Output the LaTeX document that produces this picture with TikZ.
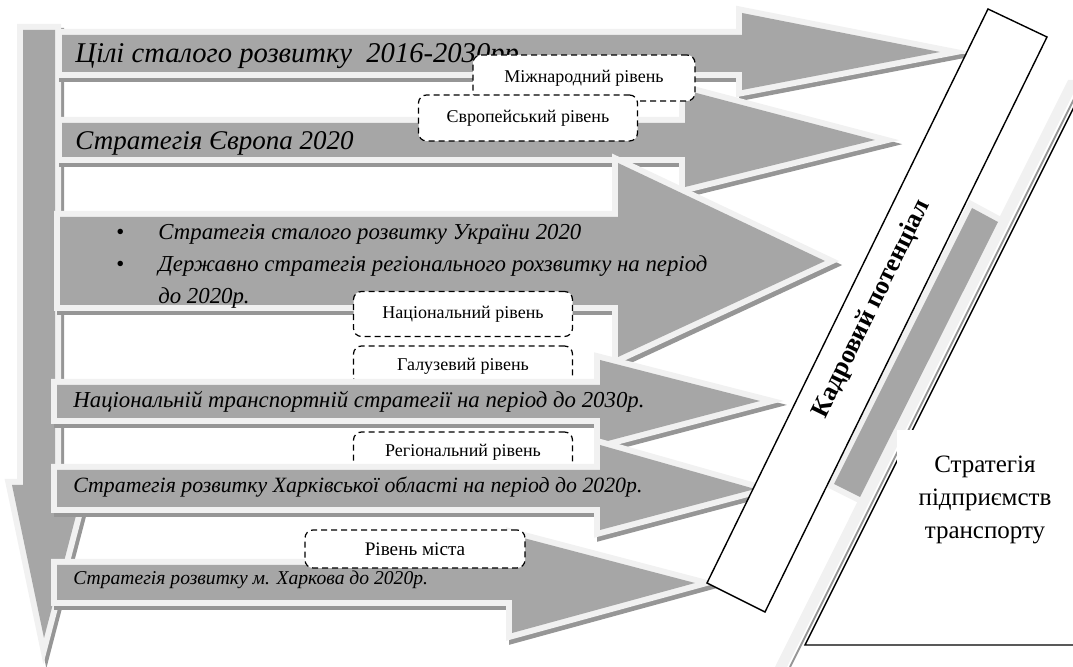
\documentclass[tikz,border=0pt]{standalone}
\usepackage{fontspec}
\setmainfont{Liberation Serif}
\definecolor{arrowgray}{RGB}{166,166,166}
\definecolor{glowgray}{RGB}{241,241,241}
\definecolor{shadegray}{RGB}{150,150,150}
\tikzset{
  bigarrow/.style={fill=arrowgray,
    preaction={draw=shadegray,fill=shadegray,line width=6pt,
      transform canvas={shift={(1.5pt,-2pt)}}},
    preaction={draw=glowgray,line width=6pt}},
  levelbox/.style={draw,fill=white,dash pattern=on 3pt off 2pt,
    rounded corners=4pt,line width=0.6pt,inner sep=0pt,
    font=\fontsize{9}{10}\selectfont},
  bigtext/.style={anchor=base west,inner sep=0pt,
    font=\itshape\fontsize{13.5}{16}\selectfont},
  smalltext/.style={anchor=base west,inner sep=0pt,
    font=\itshape\fontsize{10.5}{16}\selectfont}
}
\begin{document}
\begin{tikzpicture}[x=0.5pt,y=-0.5pt]
\useasboundingbox (0,0) rectangle (1073,667);
\clip (0,0) rectangle (1073,667);

% downward arrow on the left
\path[bigarrow] (23,30) -- (55,30) -- (55,485) -- (84,485) -- (44,638) -- (12,485) -- (23,485) -- cycle;

% level arrows
\path[bigarrow] (62,35) -- (742,35) -- (742,13) -- (940,52) -- (742,90) -- (742,72) -- (62,72) -- cycle;
\node[bigtext,font=\itshape\fontsize{14.3}{16}\selectfont] (t1) at (75,63) {Цілі сталого розвитку~ 2016-2030рр.};

\path[bigarrow] (62,123) -- (685,123) -- (685,90) -- (875,140) -- (685,187) -- (685,157) -- (62,157) -- cycle;
\node[bigtext] (t2) at (75,150) {Стратегія Європа 2020};

\node[levelbox,minimum width=111pt,minimum height=23pt] (mizh) at (584,78) {Міжнародний рівень};
\node[levelbox,minimum width=109.5pt,minimum height=23pt] (evro) at (528,118) {Європейський рівень};

\path[bigarrow] (60,217) -- (618,217) -- (618,163) -- (825,261) -- (618,357) -- (618,305) -- (60,305) -- cycle;
\node[smalltext,font=\itshape\fontsize{11.4}{16}\selectfont] (t3) at (116,240) {\begin{tabular}[t]{@{}l@{\hspace{17pt}}l@{}}
\upshape\textbullet & Стратегія сталого розвитку України 2020\\
\upshape\textbullet & Державно стратегія регіонального рохзвитку на період\\
 & до 2020р.
\end{tabular}};

\node[levelbox,minimum width=109.5pt,minimum height=22.5pt] (nats) at (463,314) {Національний рівень};
\node[levelbox,minimum width=109.5pt,minimum height=20pt] (haluz) at (463,366) {Галузевий рівень};

\path[bigarrow] (57,385) -- (600,385) -- (600,360) -- (760,401) -- (600,443) -- (600,418) -- (57,418) -- cycle;
\node[smalltext,font=\itshape\fontsize{11.4}{16}\selectfont] (t4) at (73,408) {Національній транспортній стратегії на період до 2030р.};

\node[levelbox,minimum width=109.5pt,minimum height=20pt] (reg) at (463,452) {Регіональний рівень};

\path[bigarrow] (57,470) -- (600,470) -- (600,445) -- (755,489) -- (600,530) -- (600,507) -- (57,507) -- cycle;
\node[smalltext,font=\itshape\fontsize{10.9}{16}\selectfont] (t5) at (73,493) {Стратегія розвитку Харківської області на період до 2020р.};

\path[bigarrow] (57,565) -- (512,565) -- (512,535) -- (695,583) -- (512,633) -- (512,600) -- (57,600) -- cycle;
\node[smalltext,font=\itshape\fontsize{9.8}{16}\selectfont] (t6) at (73,585) {Стратегія розвитку м. Харкова до 2020р.};

\node[levelbox,minimum width=110pt,minimum height=19pt,font=\fontsize{9.6}{10}\selectfont] (misto) at (415,549) {Рівень міста};

% right part
\draw[fill=white,line width=0.7pt] (1090,645) -- (805,645) -- (1089,77);
\fill[glowgray] (775,667) -- (787,667) -- (1080,80) -- (1068,80) -- cycle;
\draw[shadegray,line width=1pt] (790,667) -- (1074,99);
\path[fill=arrowgray,preaction={draw=glowgray,line width=6pt}] (972,208) -- (998,222) -- (860,497) -- (834,484) -- cycle;

\draw[fill=white,line width=0.7pt] (988,9) -- (1047,37) -- (765,612) -- (707,583) -- cycle;
\node[rotate=63.9,font=\bfseries\fontsize{13}{16}\selectfont] (kadr) at (872,309) {Кадровий потенціал};

\node[fill=white,minimum width=88pt,minimum height=70pt,align=center,
  font=\fontsize{12.5}{16.5}\selectfont] (strat) at (985,500) {Стратегія\\підприємств\\транспорту};
\end{tikzpicture}
\end{document}
